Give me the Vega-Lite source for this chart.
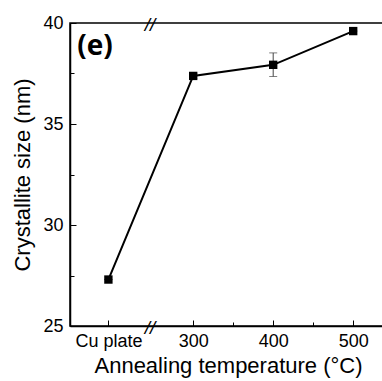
{
  "$schema": "https://vega.github.io/schema/vega-lite/v6.json",
  "autosize": "none",
  "width": 316,
  "height": 303,
  "padding": {"left": 70, "top": 23, "right": 0, "bottom": 55},
  "background": "white",
  "config": {
    "view": {"stroke": "black", "strokeWidth": 1.5},
    "font": "Liberation Sans"
  },
  "datasets": {
    "points": [
      {"temp": 194, "size": 27.3, "lo": 27.3, "hi": 27.3},
      {"temp": 300, "size": 37.38, "lo": 37.25, "hi": 37.5},
      {"temp": 400, "size": 37.93, "lo": 37.35, "hi": 38.52},
      {"temp": 500, "size": 39.6, "lo": 39.6, "hi": 39.6}
    ],
    "breaks": [
      {"temp": 246, "size": 40, "mark": "//"},
      {"temp": 246, "size": 25, "mark": "//"}
    ],
    "panel": [
      {"temp": 155, "size": 38.4, "label": "(e)"}
    ]
  },
  "layer": [
    {
      "data": {"name": "points"},
      "mark": {"type": "rule", "color": "#444", "strokeWidth": 1},
      "encoding": {
        "x": {
          "field": "temp", "type": "quantitative",
          "scale": {"domain": [146, 541], "nice": false, "zero": false},
          "axis": {
            "title": "Annealing temperature (°C)",
            "titleFontSize": 22, "titleFontWeight": "normal", "titleColor": "black",
            "titlePadding": 5,
            "values": [194, 300, 350, 400, 450, 500],
            "labelExpr": "datum.value == 194 ? 'Cu plate' : (datum.value % 100 == 0 ? datum.label : '')",
            "labelFontSize": 18, "labelColor": "black",
            "tickSize": {"condition": {"test": "datum.value % 100 == 50", "value": -4}, "value": -6},
            "tickColor": "black", "domainColor": "black", "domainWidth": 1.5,
            "labelPadding": 12, "grid": false
          }
        },
        "y": {
          "field": "lo", "type": "quantitative",
          "scale": {"domain": [25, 40], "nice": false, "zero": false},
          "axis": {
            "title": "Crystallite size (nm)",
            "titleFontSize": 22, "titleFontWeight": "normal", "titleColor": "black",
            "titlePadding": 8,
            "values": [25, 27.5, 30, 32.5, 35, 37.5, 40],
            "labelExpr": "datum.value % 5 == 0 ? datum.label : ''",
            "labelFontSize": 18, "labelColor": "black",
            "tickSize": {"condition": {"test": "datum.value % 5 != 0", "value": -4}, "value": -6},
            "tickColor": "black", "domainColor": "black", "domainWidth": 1.5,
            "labelPadding": 13, "grid": false
          }
        },
        "y2": {"field": "hi"}
      }
    },
    {
      "data": {"name": "points"},
      "mark": {"type": "tick", "orient": "horizontal", "color": "#444", "size": 8, "thickness": 1},
      "encoding": {
        "x": {"field": "temp", "type": "quantitative"},
        "y": {"field": "lo", "type": "quantitative"}
      }
    },
    {
      "data": {"name": "points"},
      "mark": {"type": "tick", "orient": "horizontal", "color": "#444", "size": 8, "thickness": 1},
      "encoding": {
        "x": {"field": "temp", "type": "quantitative"},
        "y": {"field": "hi", "type": "quantitative"}
      }
    },
    {
      "data": {"name": "points"},
      "mark": {"type": "line", "color": "black", "strokeWidth": 2},
      "encoding": {
        "x": {"field": "temp", "type": "quantitative"},
        "y": {"field": "size", "type": "quantitative"}
      }
    },
    {
      "data": {"name": "points"},
      "mark": {"type": "point", "shape": "square", "filled": true, "color": "black", "size": 70, "opacity": 1},
      "encoding": {
        "x": {"field": "temp", "type": "quantitative"},
        "y": {"field": "size", "type": "quantitative"}
      }
    },
    {
      "data": {"name": "breaks"},
      "mark": {"type": "text", "fontSize": 19, "font": "Liberation Sans", "fontStyle": "italic", "color": "black", "baseline": "middle", "align": "center", "dy": 2},
      "encoding": {
        "x": {"field": "temp", "type": "quantitative"},
        "y": {"field": "size", "type": "quantitative"},
        "text": {"field": "mark"}
      }
    },
    {
      "data": {"name": "panel"},
      "mark": {"type": "text", "fontSize": 28, "fontWeight": "bold", "font": "Open Sans", "color": "black", "baseline": "alphabetic", "align": "left"},
      "encoding": {
        "x": {"field": "temp", "type": "quantitative"},
        "y": {"field": "size", "type": "quantitative"},
        "text": {"field": "label"}
      }
    }
  ]
}
